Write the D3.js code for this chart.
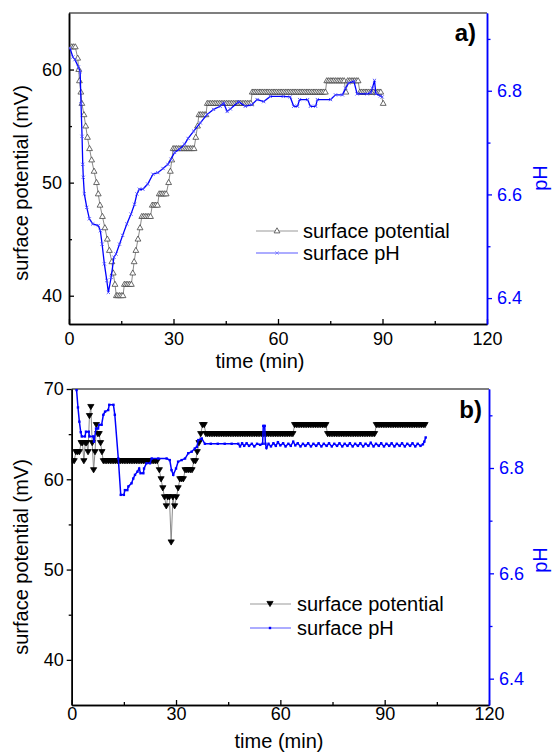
<!DOCTYPE html>
<html>
<head>
<meta charset="utf-8">
<script src="https://cdn.jsdelivr.net/npm/d3@7"></script>
<style>
  body { margin: 0; background: #fff; }
  svg { display: block; }
</style>
</head>
<body>
<div id="chart"></div>
<script>
// time axis
const timeTicks = [0, 30, 60, 90, 120];
const timeMinor = [15, 45, 75, 105];
const phTicks = [6.4, 6.6, 6.8];
const phMinor = [6.5, 6.7, 6.9];
const potTicksA = [40, 50, 60];
const potMinorA = [45, 55];
const potTicksB = [40, 50, 60, 70];
const potMinorB = [45, 55, 65];

// panel a) surface potential [min, mV]
const potA = [
  [0.8,62],[1.3,62],[1.8,62],[2.5,61],[2.8,60],[3.0,59],[3.4,58],[3.7,57],[4.3,56],[4.8,55],[5.3,54],[5.9,53],
  [6.5,52],[7.2,51],[7.9,50],[8.4,49],[8.9,48],[9.6,47],[10.3,46],[11.0,45],[11.6,44],[12.3,43],[12.7,42],[13.2,41],
  [13.6,40],[14.0,40],[14.5,40],[15.0,40],[15.5,40],
  [15.9,41],[16.4,41],[16.9,41],[17.4,41],[17.9,41],[18.3,42],[18.7,43],[19.2,44],[19.8,45],[20.4,46],
  [20.9,47],[21.4,47],[21.9,47],[22.4,47],[22.9,47],[23.4,47],
  [23.9,48],[24.4,48],[24.9,48],[25.4,48],
  [25.9,49],[26.4,49],[26.9,49],[27.4,49],[27.9,49],
  [28.6,50],[29.1,51],[29.5,52],
  [29.9,53],[30.4,53],[30.9,53],[31.4,53],[31.9,53],[32.4,53],[32.9,53],[33.4,53],[33.9,53],[34.4,53],[34.9,53],[35.4,53],[35.9,53],
  [36.4,54],[36.9,55],
  [37.3,56],[37.8,56],[38.3,56],[38.8,56],[39.3,56],
  [39.7,57],[40.2,57],[40.7,57],[41.2,57],[41.7,57],[42.2,57],[42.7,57],[43.2,57],[43.7,57],[44.2,57],[44.7,57],[45.2,57],
  [45.7,57],[46.2,57],[46.7,57],[47.2,57],[47.7,57],[48.2,57],[48.7,57],[49.2,57],[49.7,57],[50.2,57],[50.7,57],[51.2,57],
  [51.7,57],[52.2,57],
  [52.6,58],[53.1,58],[53.6,58],[54.1,58],[54.6,58],[55.1,58],[55.6,58],[56.1,58],[56.6,58],[57.1,58],[57.6,58],[58.1,58],
  [58.6,58],[59.1,58],[59.6,58],[60.1,58],[60.6,58],[61.1,58],[61.6,58],[62.1,58],[62.6,58],[63.1,58],[63.6,58],[64.1,58],
  [64.6,58],[65.1,58],[65.6,58],[66.1,58],[66.6,58],[67.1,58],[67.6,58],[68.1,58],[68.6,58],[69.1,58],[69.6,58],[70.1,58],
  [70.6,58],[71.1,58],[71.6,58],[72.1,58],[72.6,58],[73.1,58],[73.6,58],
  [74.0,59],[74.5,59],[75.0,59],[75.5,59],[76.0,59],[76.5,59],[77.0,59],[77.5,59],[78.0,59],[78.5,59],[79.0,59],
  [79.5,58],
  [80.0,59],[80.5,59],[81.0,59],[81.5,59],[82.0,59],[82.5,59],[83.0,59],
  [83.5,58],[84.0,58],[84.5,58],[85.0,58],[85.5,58],[86.0,58],[86.5,58],[87.0,58],[87.5,58],[88.0,58],[88.5,58],[89.0,58],
  [89.5,58],[90.2,57]
];

// panel a) surface pH [min, pH]
const phA = [
  [0.3,6.882],[1.1,6.865],[1.7,6.860],[2.7,6.846],[3.2,6.837],[3.45,6.775],[3.75,6.712],[3.95,6.658],[4.1,6.633],
  [4.4,6.601],[5.1,6.575],[5.85,6.553],[6.8,6.543],[8.4,6.540],[9.0,6.530],[9.5,6.504],[10.15,6.466],[10.85,6.434],
  [11.3,6.411],[12.1,6.440],[12.9,6.479],[13.5,6.485],[14.5,6.504],[15.4,6.521],[16.6,6.543],[17.8,6.562],[18.8,6.581],
  [19.5,6.601],[20.2,6.610],[21.2,6.610],[22.6,6.620],[24.1,6.639],[25.5,6.642],[27.0,6.650],[28.4,6.658],[29.3,6.668],
  [30.3,6.681],[31.7,6.687],[33.2,6.697],[34.2,6.708],[35.8,6.722],[37.7,6.738],[39.6,6.754],[41.5,6.764],[43.4,6.770],
  [44.4,6.776],[45.4,6.760],[46.3,6.765],[48.7,6.779],[50.6,6.770],[52.5,6.773],[54.0,6.783],[55.9,6.779],[57.8,6.789],
  [61.5,6.789],[63.5,6.788],[64.5,6.770],[65.6,6.770],[66.2,6.783],[68.5,6.783],[69.3,6.770],[70.8,6.770],[71.3,6.783],
  [75.1,6.783],[76.5,6.792],[78.5,6.792],[79.4,6.805],[80.3,6.815],[81.8,6.818],[82.7,6.794],[85.6,6.794],[86.6,6.796],
  [87.1,6.805],[87.7,6.820],[88.1,6.794],[89.4,6.790],[89.9,6.788]
];

// panel b) surface potential [min, mV]
const potB = [
  [0.2,62],[0.7,62],[1.2,63],[1.7,63],[2.2,63],[2.7,64],[3.1,64],[3.5,62],[3.9,64],[4.3,64],[4.7,63],[5.1,67],[5.5,68],
  [5.9,64],[6.3,61],[6.7,63],[7.1,66],[7.5,65],[7.9,65],[8.3,64],[8.7,63],[9.1,62],
  [9.6,62],[10.1,62],[10.6,62],[11.1,62],[11.6,62],[12.1,62],[12.6,62],[13.1,62],[13.6,62],[14.1,62],[14.6,62],[15.1,62],
  [15.6,62],[16.1,62],[16.6,62],[17.1,62],[17.6,62],[18.1,62],[18.6,62],[19.1,62],[19.6,62],[20.1,62],[20.6,62],[21.1,62],
  [21.6,62],[22.1,62],[22.6,62],[23.1,62],[23.6,62],[24.1,62],[24.6,62],
  [25.2,61],[25.7,60],[26.2,59],[26.7,58],[27.2,57],[27.6,58],[28.1,58],[28.6,53],[29.1,58],[29.6,57],[30.1,58],[30.6,59],
  [31.1,60],[31.6,60],[32.1,60],[32.6,61],[33.1,61],[33.6,61],[34.1,61],[34.6,61],[35.1,62],[35.6,62],[36.1,63],[36.6,64],
  [37.1,65],[37.6,66],[38.1,66],
  [38.6,65],[39.1,65],[39.6,65],[40.1,65],[40.6,65],[41.1,65],[41.6,65],[42.1,65],[42.6,65],[43.1,65],[43.6,65],[44.1,65],
  [44.6,65],[45.1,65],[45.6,65],[46.1,65],[46.6,65],[47.1,65],[47.6,65],[48.1,65],[48.6,65],[49.1,65],[49.6,65],[50.1,65],
  [50.6,65],[51.1,65],[51.6,65],[52.1,65],[52.6,65],[53.1,65],[53.6,65],[54.1,65],[54.6,65],[55.1,65],[55.6,65],[56.1,65],
  [56.6,65],[57.1,65],[57.6,65],[58.1,65],[58.6,65],[59.1,65],[59.6,65],[60.1,65],[60.6,65],[61.1,65],[61.6,65],[62.1,65],
  [62.6,65],[63.1,65],[63.6,65],
  [64.1,66],[64.6,66],[65.1,66],[65.6,66],[66.1,66],[66.6,66],[67.1,66],[67.6,66],[68.1,66],[68.6,66],[69.1,66],[69.6,66],
  [70.1,66],[70.6,66],[71.1,66],[71.6,66],[72.1,66],[72.6,66],[73.1,66],
  [73.6,65],[74.1,65],[74.6,65],[75.1,65],[75.6,65],[76.1,65],[76.6,65],[77.1,65],[77.6,65],[78.1,65],[78.6,65],[79.1,65],
  [79.6,65],[80.1,65],[80.6,65],[81.1,65],[81.6,65],[82.1,65],[82.6,65],[83.1,65],[83.6,65],[84.1,65],[84.6,65],[85.1,65],
  [85.6,65],[86.1,65],[86.6,65],[87.1,65],
  [87.6,66],[88.1,66],[88.6,66],[89.1,66],[89.6,66],[90.1,66],[90.6,66],[91.1,66],[91.6,66],[92.1,66],[92.6,66],[93.1,66],
  [93.6,66],[94.1,66],[94.6,66],[95.1,66],[95.6,66],[96.1,66],[96.6,66],[97.1,66],[97.6,66],[98.1,66],[98.6,66],[99.1,66],
  [99.6,66],[100.1,66],[100.6,66],[101.1,66],[101.6,66]
];

// panel b) surface pH [min, pH]
const phB = [
  [1.2,6.970],[1.4,6.948],[1.8,6.915],[2.2,6.888],[2.6,6.868],[2.9,6.860],[3.8,6.860],[4.1,6.869],[4.9,6.869],[5.1,6.860],
  [6.2,6.860],[6.4,6.850],[7.0,6.875],[7.6,6.875],[7.9,6.882],[8.6,6.882],[9.1,6.901],[9.6,6.907],[10.5,6.910],[10.8,6.920],
  [12.0,6.920],[12.4,6.901],[13.4,6.818],[14.1,6.749],[15.0,6.749],[15.3,6.758],[16.0,6.758],[16.3,6.765],[17.2,6.771],
  [17.7,6.780],[18.2,6.787],[18.9,6.793],[19.4,6.799],[19.8,6.790],[20.6,6.790],[20.8,6.799],[21.5,6.809],[22.5,6.809],
  [23.0,6.818],[24.9,6.818],[27.3,6.818],[28.2,6.815],[28.7,6.796],[29.2,6.787],[30.0,6.799],[30.6,6.812],[31.6,6.815],
  [32.6,6.818],[33.5,6.828],[34.5,6.831],[35.4,6.837],[36.0,6.840],[36.4,6.853],[37.4,6.856],[38.3,6.846],
  [40.0,6.846],[42.0,6.846],[44.0,6.846],[46.0,6.846],[47.9,6.846],[48.4,6.841],[49.0,6.847],[49.6,6.842],[50.3,6.847],
  [51.0,6.842],[51.8,6.846],[52.5,6.841],[53.3,6.846],[54.2,6.844],[54.9,6.846],[55.1,6.880],[55.5,6.880],[55.7,6.846],
  [56.0,6.838],[56.6,6.846],[57.3,6.841],[58.0,6.847],[58.7,6.842],[59.3,6.849],[60.0,6.843],[60.8,6.847],[61.5,6.841],
  [62.3,6.846],[63.0,6.842],[63.7,6.850],[64.3,6.843],[65.0,6.847],[65.8,6.841],[66.5,6.846],[67.2,6.842],[68.0,6.847],
  [68.8,6.841],[69.5,6.846],[70.3,6.842],[71.0,6.847],[71.8,6.841],[72.5,6.846],[73.3,6.842],[74.0,6.847],[74.8,6.841],
  [75.5,6.846],[76.3,6.842],[77.0,6.847],[77.8,6.841],[78.5,6.846],[79.3,6.842],[80.0,6.847],[80.8,6.841],[81.5,6.846],
  [82.3,6.842],[83.0,6.847],[83.8,6.841],[84.5,6.846],[85.3,6.842],[86.0,6.848],[86.8,6.841],[87.5,6.846],[88.3,6.842],
  [89.0,6.847],[89.8,6.841],[90.5,6.846],[91.3,6.842],[92.0,6.847],[92.8,6.841],[93.5,6.846],[94.3,6.842],[95.0,6.847],
  [95.8,6.841],[96.5,6.846],[97.3,6.842],[98.0,6.847],[98.8,6.841],[99.5,6.846],[100.3,6.842],[101.0,6.845],[101.4,6.850],
  [101.8,6.858]
];

const FONT = '"Liberation Sans", Arial, Helvetica, sans-serif';
const BLUE = '#0000ff';

const triUp = 'M0,-3.2L2.9,1.9L-2.9,1.9Z';
const triDown = 'M0,2.6L3.1,-2.6L-3.1,-2.6Z';
const cross = 'M-1.6,-1.6L1.6,1.6M1.6,-1.6L-1.6,1.6';

const svg = d3.select('#chart')
  .append('svg')
    .attr('width', 553)
    .attr('height', 752);

function styleAxis(g, color, size) {
  g.attr('font-size', size).attr('font-family', FONT).attr('color', color);
  g.select('.domain').attr('stroke-width', 1.5);
  g.selectAll('.tick line').attr('stroke-width', 1.3);
}

function drawPanel(o) {
  const g = svg.append('g');
  const x = d3.scaleLinear().domain([0, 120]).range([o.left, o.right]);
  const yPot = d3.scaleLinear().domain(o.potDomain).range([o.bottom, o.top]);
  const yPh = d3.scaleLinear().domain([6.35, 6.95]).range([o.bottom, o.top]);

  g.append('clipPath').attr('id', 'clip' + o.name)
    .append('rect')
      .attr('x', o.left).attr('y', o.top)
      .attr('width', o.right - o.left).attr('height', o.bottom - o.top);

  // top frame line
  g.append('line')
    .attr('x1', o.left).attr('x2', o.right)
    .attr('y1', o.top).attr('y2', o.top)
    .attr('stroke', '#555').attr('stroke-width', 1.5);

  // bottom axis (ticks inside)
  g.append('g').attr('transform', `translate(0,${o.bottom})`)
    .call(d3.axisBottom(x).tickValues(timeMinor).tickSize(-3).tickSizeOuter(0).tickFormat(''))
    .call(a => styleAxis(a, '#000', 18));
  g.append('g').attr('transform', `translate(0,${o.bottom})`)
    .call(d3.axisBottom(x).tickValues(timeTicks).tickSize(-5).tickSizeOuter(0).tickPadding(o.xPad))
    .call(a => styleAxis(a, '#000', 18));

  // left axis
  g.append('g').attr('transform', `translate(${o.left},0)`)
    .call(d3.axisLeft(yPot).tickValues(o.potMinor).tickSize(o.leftTick * 0.6).tickSizeOuter(0).tickFormat(''))
    .call(a => styleAxis(a, '#000', 18));
  g.append('g').attr('transform', `translate(${o.left},0)`)
    .call(d3.axisLeft(yPot).tickValues(o.potTicks).tickSize(o.leftTick).tickSizeOuter(0).tickPadding(o.yPad))
    .call(a => styleAxis(a, '#000', 18));

  // right axis pH (ticks outside)
  g.append('g').attr('transform', `translate(${o.right},0)`)
    .call(d3.axisRight(yPh).tickValues(phMinor).tickSize(3.5).tickSizeOuter(0).tickFormat(''))
    .call(a => styleAxis(a, BLUE, 18));
  g.append('g').attr('transform', `translate(${o.right},0)`)
    .call(d3.axisRight(yPh).tickValues(phTicks).tickSize(5).tickSizeOuter(0).tickPadding(5).tickFormat(d3.format('.1f')))
    .call(a => styleAxis(a, BLUE, 18));

  const plot = g.append('g').attr('clip-path', `url(#clip${o.name})`);

  // surface potential
  plot.append('path')
    .datum(o.pot)
    .attr('fill', 'none')
    .attr('stroke', '#8a8a8a')
    .attr('stroke-width', 1)
    .attr('d', d3.line().x(d => x(d[0])).y(d => yPot(d[1])));
  plot.selectAll('.pot')
    .data(o.pot)
    .enter()
      .append('path')
        .attr('class', 'pot')
        .attr('d', o.potMarker)
        .attr('transform', d => `translate(${x(d[0])},${yPot(d[1])})`)
        .attr('fill', o.potFill)
        .attr('stroke', o.potStroke)
        .attr('stroke-width', 0.8);

  // surface pH
  plot.append('path')
    .datum(o.ph)
    .attr('fill', 'none')
    .attr('stroke', BLUE)
    .attr('stroke-width', o.phWidth)
    .attr('d', d3.line().x(d => x(d[0])).y(d => yPh(d[1])));
  if (o.name === 'a') {
    plot.selectAll('.ph')
      .data(o.ph)
      .enter()
        .append('path')
          .attr('class', 'ph')
          .attr('d', cross)
          .attr('transform', d => `translate(${x(d[0])},${yPh(d[1])})`)
          .attr('stroke', '#4d4dff')
          .attr('stroke-width', 0.9);
  } else {
    plot.selectAll('.ph')
      .data(o.ph)
      .enter()
        .append('rect')
          .attr('class', 'ph')
          .attr('x', d => x(d[0]) - 1.2)
          .attr('y', d => yPh(d[1]) - 1.2)
          .attr('width', 2.4)
          .attr('height', 2.4)
          .attr('fill', BLUE);
  }

  // axis titles
  g.append('text')
    .attr('transform', `translate(${o.yTitle[0]},${o.yTitle[1]}) rotate(-90)`)
    .attr('text-anchor', 'middle')
    .attr('font-family', FONT).attr('font-size', 20)
    .text('surface potential (mV)');
  g.append('text')
    .attr('x', o.xTitle[0]).attr('y', o.xTitle[1])
    .attr('text-anchor', 'middle')
    .attr('font-family', FONT).attr('font-size', 20)
    .text('time (min)');
  g.append('text')
    .attr('transform', `translate(${o.phTitle[0]},${o.phTitle[1]}) rotate(-90)`)
    .attr('text-anchor', 'middle')
    .attr('font-family', FONT).attr('font-size', 20)
    .attr('fill', BLUE)
    .text('pH');
  g.append('text')
    .attr('x', o.tag[0]).attr('y', o.tag[1])
    .attr('text-anchor', 'end')
    .attr('font-family', FONT).attr('font-size', 24).attr('font-weight', 'bold')
    .text(o.name + ')');

  // legend
  const lg = o.legend;
  g.append('line')
    .attr('x1', lg.x1).attr('x2', lg.x2).attr('y1', lg.y1).attr('y2', lg.y1)
    .attr('stroke', '#999').attr('stroke-width', 1.2);
  g.append('path')
    .attr('d', o.potMarker)
    .attr('transform', `translate(${lg.mx},${lg.y1})`)
    .attr('fill', o.potFill).attr('stroke', o.potStroke).attr('stroke-width', 0.8);
  g.append('text')
    .attr('x', lg.tx).attr('y', lg.y1 + 7)
    .attr('font-family', FONT).attr('font-size', 20)
    .text('surface potential');
  g.append('line')
    .attr('x1', lg.x1).attr('x2', lg.x2).attr('y1', lg.y2).attr('y2', lg.y2)
    .attr('stroke', '#5a5aff').attr('stroke-width', 1.2);
  if (o.name === 'a') {
    g.append('path')
      .attr('d', cross)
      .attr('transform', `translate(${lg.mx},${lg.y2})`)
      .attr('stroke', '#7a7aff').attr('stroke-width', 0.9);
  } else {
    g.append('rect')
      .attr('x', lg.mx - 1.2).attr('y', lg.y2 - 1.2)
      .attr('width', 2.4).attr('height', 2.4)
      .attr('fill', BLUE);
  }
  g.append('text')
    .attr('x', lg.tx).attr('y', lg.y2 + 7)
    .attr('font-family', FONT).attr('font-size', 20)
    .text('surface pH');
}

drawPanel({
  name: 'a',
  left: 69, right: 487, top: 13, bottom: 324,
  potDomain: [37.5, 65],
  potTicks: potTicksA, potMinor: potMinorA,
  leftTick: -5, yPad: 7, xPad: 8,
  pot: potA, ph: phA,
  potMarker: triUp, potFill: '#fff', potStroke: '#444',
  phWidth: 1.3,
  yTitle: [28, 183], xTitle: [260, 368], phTitle: [547, 178], tag: [476, 41],
  legend: {x1: 256, x2: 298, mx: 277, y1: 231, y2: 253, tx: 303}
});

drawPanel({
  name: 'b',
  left: 71.7, right: 489, top: 389, bottom: 705,
  potDomain: [35, 70],
  potTicks: potTicksB, potMinor: potMinorB,
  leftTick: 5, yPad: 3, xPad: 2,
  pot: potB, ph: phB,
  potMarker: triDown, potFill: '#000', potStroke: '#000',
  phWidth: 1.5,
  yTitle: [28, 557], xTitle: [279, 748], phTitle: [547, 560], tag: [482, 418],
  legend: {x1: 250, x2: 291, mx: 270, y1: 604, y2: 628, tx: 297}
});
</script>
</body>
</html>
